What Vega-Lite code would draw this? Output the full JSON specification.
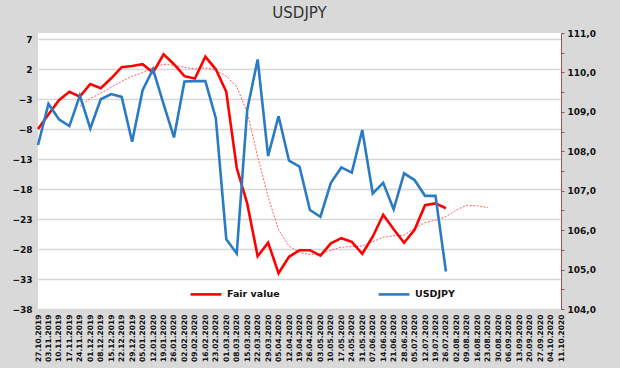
{
  "$schema": "https://vega.github.io/schema/vega-lite/v6.json",
  "width": 523,
  "height": 276,
  "autosize": {"type": "none"},
  "padding": {"left": 38, "top": 33, "right": 59, "bottom": 59},
  "background": "#d9d9d9",
  "title": {"text": "USDJPY", "anchor": "middle", "font": "DejaVu Sans", "fontSize": 15, "fontWeight": "normal", "color": "#333333", "offset": 8},
  "config": {
    "view": {"fill": "white", "stroke": null},
    "axis": {"labelFont": "DejaVu Sans", "labelFontWeight": "bold", "labelColor": "#111111", "titleFont": "DejaVu Sans"},
    "legend": {"labelFont": "DejaVu Sans", "labelFontWeight": "bold"}
  },
  "data": {
    "values": [
      {"date": "27.10.2019", "fair": -8.0, "ma": null, "usdjpy": 108.16},
      {"date": "03.11.2019", "fair": -5.6, "ma": null, "usdjpy": 109.2},
      {"date": "10.11.2019", "fair": -3.2, "ma": null, "usdjpy": 108.81},
      {"date": "17.11.2019", "fair": -1.8, "ma": null, "usdjpy": 108.64},
      {"date": "24.11.2019", "fair": -2.6, "ma": -4.2, "usdjpy": 109.41},
      {"date": "01.12.2019", "fair": -0.5, "ma": -2.9, "usdjpy": 108.58},
      {"date": "08.12.2019", "fair": -1.2, "ma": -2.05, "usdjpy": 109.32},
      {"date": "15.12.2019", "fair": 0.45, "ma": -1.05, "usdjpy": 109.45},
      {"date": "22.12.2019", "fair": 2.3, "ma": -0.1, "usdjpy": 109.38},
      {"date": "29.12.2019", "fair": 2.5, "ma": 0.8, "usdjpy": 108.24},
      {"date": "05.01.2020", "fair": 2.8, "ma": 1.4, "usdjpy": 109.55},
      {"date": "12.01.2020", "fair": 1.4, "ma": 2.2, "usdjpy": 110.08},
      {"date": "19.01.2020", "fair": 4.45, "ma": 2.8, "usdjpy": 109.2},
      {"date": "26.01.2020", "fair": 2.8, "ma": 2.6, "usdjpy": 108.35},
      {"date": "02.02.2020", "fair": 0.8, "ma": 2.3, "usdjpy": 109.77},
      {"date": "09.02.2020", "fair": 0.4, "ma": 2.0, "usdjpy": 109.78},
      {"date": "16.02.2020", "fair": 4.05, "ma": 2.2, "usdjpy": 109.78},
      {"date": "23.02.2020", "fair": 1.95, "ma": 1.8, "usdjpy": 108.84},
      {"date": "01.03.2020", "fair": -1.8, "ma": 0.8, "usdjpy": 105.77},
      {"date": "08.03.2020", "fair": -14.5, "ma": -0.95, "usdjpy": 105.41},
      {"date": "15.03.2020", "fair": -20.4, "ma": -5.2, "usdjpy": 109.05},
      {"date": "22.03.2020", "fair": -29.2, "ma": -12.6, "usdjpy": 110.33},
      {"date": "29.03.2020", "fair": -26.95, "ma": -19.3, "usdjpy": 107.88},
      {"date": "05.04.2020", "fair": -32.05, "ma": -24.8, "usdjpy": 108.89},
      {"date": "12.04.2020", "fair": -29.3, "ma": -27.5, "usdjpy": 107.76},
      {"date": "19.04.2020", "fair": -28.2, "ma": -28.6, "usdjpy": 107.61},
      {"date": "26.04.2020", "fair": -28.2, "ma": -28.9, "usdjpy": 106.51},
      {"date": "03.05.2020", "fair": -29.1, "ma": -28.8, "usdjpy": 106.34},
      {"date": "10.05.2020", "fair": -27.05, "ma": -28.2, "usdjpy": 107.2},
      {"date": "17.05.2020", "fair": -26.2, "ma": -27.7, "usdjpy": 107.59},
      {"date": "24.05.2020", "fair": -26.8, "ma": -27.6, "usdjpy": 107.46},
      {"date": "31.05.2020", "fair": -28.8, "ma": -27.5, "usdjpy": 108.54},
      {"date": "07.06.2020", "fair": -25.95, "ma": -26.8, "usdjpy": 106.93},
      {"date": "14.06.2020", "fair": -22.3, "ma": -26.05, "usdjpy": 107.2},
      {"date": "21.06.2020", "fair": -24.7, "ma": -25.8, "usdjpy": 106.53},
      {"date": "28.06.2020", "fair": -26.95, "ma": -25.7, "usdjpy": 107.44},
      {"date": "05.07.2020", "fair": -24.8, "ma": -24.55, "usdjpy": 107.27},
      {"date": "12.07.2020", "fair": -20.7, "ma": -23.6, "usdjpy": 106.87},
      {"date": "19.07.2020", "fair": -20.4, "ma": -23.2, "usdjpy": 106.87},
      {"date": "26.07.2020", "fair": -21.2, "ma": -22.6, "usdjpy": 104.95},
      {"date": "02.08.2020", "fair": null, "ma": -21.5, "usdjpy": null},
      {"date": "09.08.2020", "fair": null, "ma": -20.7, "usdjpy": null},
      {"date": "16.08.2020", "fair": null, "ma": -20.8, "usdjpy": null},
      {"date": "23.08.2020", "fair": null, "ma": -21.1, "usdjpy": null}
    ]
  },
  "encoding": {
    "x": {
      "field": "date",
      "type": "ordinal",
      "scale": {
        "type": "point",
        "padding": 0,
        "domain": ["27.10.2019","03.11.2019","10.11.2019","17.11.2019","24.11.2019","01.12.2019","08.12.2019","15.12.2019","22.12.2019","29.12.2019","05.01.2020","12.01.2020","19.01.2020","26.01.2020","02.02.2020","09.02.2020","16.02.2020","23.02.2020","01.03.2020","08.03.2020","15.03.2020","22.03.2020","29.03.2020","05.04.2020","12.04.2020","19.04.2020","26.04.2020","03.05.2020","10.05.2020","17.05.2020","24.05.2020","31.05.2020","07.06.2020","14.06.2020","21.06.2020","28.06.2020","05.07.2020","12.07.2020","19.07.2020","26.07.2020","02.08.2020","09.08.2020","16.08.2020","23.08.2020","30.08.2020","06.09.2020","13.09.2020","20.09.2020","27.09.2020","04.10.2020","11.10.2020"]
      },
      "axis": {"title": null, "labelAngle": -90, "labelFontSize": 7.5, "ticks": false, "domain": false, "labelPadding": 5, "grid": false}
    }
  },
  "layer": [
    {
      "layer": [
        {
          "mark": {"type": "line", "strokeDash": [2, 1.5], "strokeWidth": 1, "color": "#ff5a5a"},
          "encoding": {
            "y": {"field": "ma", "type": "quantitative", "scale": {"domain": [-38, 8], "nice": false, "zero": false},
              "axis": {"title": null, "values": [-38,-33,-28,-23,-18,-13,-8,-3,2,7], "grid": true, "gridColor": "#d6d6d6", "gridWidth": 1.5, "domain": false, "ticks": false, "labelFontSize": 9, "labelPadding": 6}}
          }
        },
        {
          "mark": {"type": "line", "strokeWidth": 2.6},
          "encoding": {
            "y": {"field": "fair", "type": "quantitative", "scale": {"domain": [-38, 8], "nice": false, "zero": false},
              "axis": {"title": null, "values": [-38,-33,-28,-23,-18,-13,-8,-3,2,7], "grid": true, "gridColor": "#d6d6d6", "gridWidth": 1.5, "domain": false, "ticks": false, "labelFontSize": 9, "labelPadding": 6}},
            "color": {"datum": "Fair value", "type": "nominal",
              "scale": {"domain": ["Fair value", "USDJPY"], "range": ["#ff0000", "#2b7bc4"]},
              "legend": {"title": null, "orient": "none", "direction": "horizontal", "legendX": 151, "legendY": 244, "symbolType": "stroke", "symbolSize": 950, "symbolStrokeWidth": 2.6, "labelFontSize": 9.5, "labelColor": "#111111", "columnPadding": 93, "labelOffset": 4}}
          }
        }
      ]
    },
    {
      "mark": {"type": "line", "strokeWidth": 2.6},
      "encoding": {
        "y": {"field": "usdjpy", "type": "quantitative", "scale": {"domain": [104, 111], "nice": false, "zero": false},
          "axis": {"title": null, "orient": "right", "grid": false, "values": [104,104.5,105,105.5,106,106.5,107,107.5,108,108.5,109,109.5,110,110.5,111],
            "labelExpr": "datum.value % 1 == 0 ? replace(format(datum.value, '.1f'), '.', ',') : ''",
            "domainColor": "#a05050", "domainWidth": 1, "tickColor": "#a05050", "tickSize": 3, "labelFontSize": 9, "labelPadding": 3, "labelFlush": false, "labelOverlap": false}},
        "color": {"datum": "USDJPY", "type": "nominal"}
      }
    }
  ],
  "resolve": {"scale": {"y": "independent"}}
}
